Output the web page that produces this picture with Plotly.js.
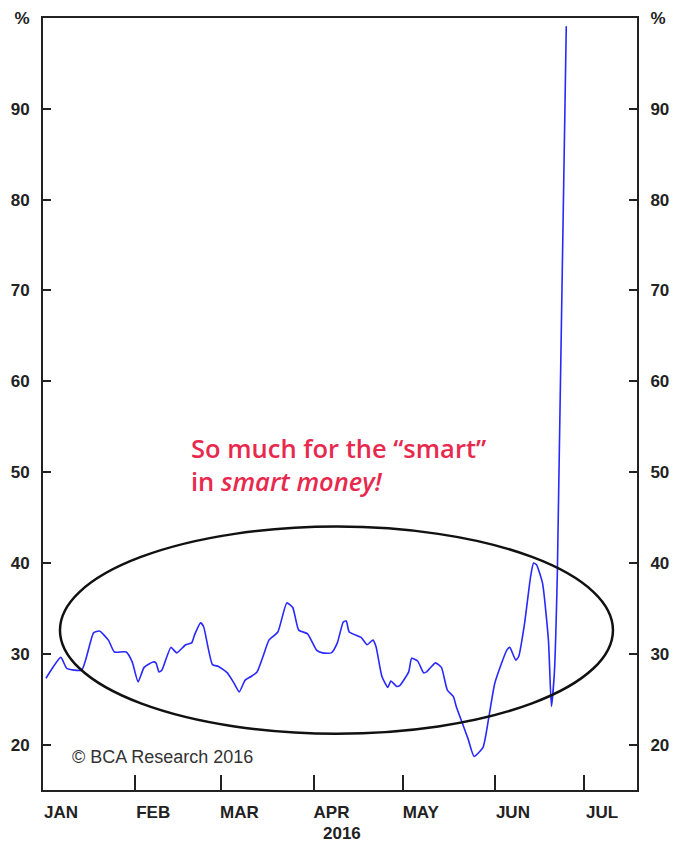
<!DOCTYPE html>
<html>
<head>
<meta charset="utf-8">
<script src="https://cdn.plot.ly/plotly-3.0.1.min.js"></script>
<style>
  html, body { margin: 0; padding: 0; background: #fff; }
  #chart { width: 673px; height: 843px; }
</style>
</head>
<body>
<div id="chart"></div>
<script>
// ---- data ----
const dates = [
  '2016-01-02','2016-01-07','2016-01-09','2016-01-14','2016-01-18','2016-01-20','2016-01-23','2016-01-25','2016-01-29','2016-01-31',
  '2016-02-02','2016-02-04','2016-02-07','2016-02-08','2016-02-09','2016-02-10','2016-02-13','2016-02-15','2016-02-18','2016-02-20',
  '2016-02-21','2016-02-23','2016-02-24','2016-02-27','2016-02-29',
  '2016-03-03','2016-03-05','2016-03-07','2016-03-09','2016-03-11','2016-03-13','2016-03-15','2016-03-17','2016-03-20','2016-03-23',
  '2016-03-25','2016-03-27','2016-03-30',
  '2016-04-02','2016-04-04','2016-04-07','2016-04-09','2016-04-11','2016-04-12','2016-04-13','2016-04-17','2016-04-19','2016-04-21',
  '2016-04-22','2016-04-24','2016-04-26','2016-04-27','2016-04-29','2016-04-30',
  '2016-05-03','2016-05-04','2016-05-06','2016-05-08','2016-05-09','2016-05-12','2016-05-14','2016-05-16','2016-05-18','2016-05-19',
  '2016-05-21','2016-05-23','2016-05-25','2016-05-28','2016-05-30',
  '2016-06-01','2016-06-05','2016-06-06','2016-06-08','2016-06-09','2016-06-11','2016-06-13','2016-06-14','2016-06-15','2016-06-17',
  '2016-06-19','2016-06-20','2016-06-21','2016-06-22','2016-06-25'
];
const values = [
  27.3, 29.6, 28.4, 28.2, 32.3, 32.5, 31.5, 30.2, 30.2, 29.1,
  26.9, 28.5, 29.1, 29.0, 28.0, 28.2, 30.7, 30.1, 31.0, 31.2,
  32.1, 33.4, 33.0, 28.8, 28.6,
  27.9, 26.9, 25.8, 27.1, 27.5, 28.0, 29.7, 31.5, 32.4, 35.6,
  35.1, 32.6, 32.2,
  30.4, 30.1, 30.1, 31.2, 33.5, 33.6, 32.4, 31.8, 31.0, 31.5,
  30.8, 27.5, 26.3, 27.0, 26.4, 26.5,
  28.0, 29.5, 29.2, 27.9, 28.0, 29.0, 28.5, 26.0, 25.3, 24.2,
  22.4, 20.6, 18.7, 19.7, 23.1,
  26.8, 30.4, 30.7, 29.3, 29.7, 33.4, 38.5, 40.0, 39.8, 37.8,
  31.5, 24.2, 27.9, 38.9, 99.1
];
const monthTicks = ['2016-01-01','2016-02-01','2016-03-01','2016-04-01','2016-05-01','2016-06-01','2016-07-01'];
const monthLabels = ['JAN','FEB','MAR','APR','MAY','JUN','JUL'];
const yTicks = [20, 30, 40, 50, 60, 70, 80, 90, 100];
const yLabels = ['20','30','40','50','60','70','80','90','%'];
const yearLabel = '2016';
const noteText = 'So much for the \u201csmart\u201d<br>in <i>smart money!</i>';
const sourceText = '\u00a9 BCA Research 2016';

// ---- chart ----
const tickFont = { family: 'Liberation Sans, Arial, sans-serif', size: 17, color: '#222', weight: 700 };

const traces = [
  {
    x: dates, y: values, type: 'scatter', mode: 'lines',
    line: { color: 'rgb(40,40,255)', width: 1.6, shape: 'spline', smoothing: 0.5 },
    hoverinfo: 'x+y', showlegend: false
  },
  {
    x: dates, y: values, type: 'scatter', mode: 'lines', yaxis: 'y2',
    line: { color: 'rgba(0,0,0,0)', width: 0 },
    hoverinfo: 'skip', showlegend: false
  }
];

const yCommon = {
  range: [15, 100],
  tickmode: 'array', tickvals: yTicks, ticktext: yLabels,
  ticks: 'inside', ticklen: 8, tickwidth: 2, tickcolor: '#222',
  showline: true, linecolor: '#222', linewidth: 2,
  showgrid: false, zeroline: false,
  tickfont: tickFont, ticklabelstandoff: 8,
  fixedrange: true
};

const layout = {
  width: 673, height: 843,
  margin: { l: 43, r: 36, t: 18, b: 53 },
  paper_bgcolor: '#fff', plot_bgcolor: '#fff',
  showlegend: false,
  xaxis: {
    type: 'date',
    range: ['2016-01-01', '2016-07-18 19:00'],
    tickmode: 'array', tickvals: monthTicks, ticktext: monthLabels,
    ticks: 'inside', ticklen: 15, tickwidth: 2, tickcolor: '#222',
    showline: true, linecolor: '#222', linewidth: 2, mirror: true,
    showgrid: false, zeroline: false,
    tickfont: tickFont, ticklabelshift: 18, ticklabelstandoff: 6,
    fixedrange: true
  },
  yaxis: Object.assign({}, yCommon, { side: 'left' }),
  yaxis2: Object.assign({}, yCommon, { side: 'right', overlaying: 'y' }),
  shapes: [
    {
      type: 'circle', xref: 'x', yref: 'y',
      x0: '2016-01-06 17:00', x1: '2016-07-10 17:00',
      y0: 21.2, y1: 44.0,
      line: { color: '#111', width: 2.5 }
    }
  ],
  annotations: [
    {
      text: noteText, xref: 'paper', yref: 'paper',
      x: 0.2455, y: 0.421, xanchor: 'left', yanchor: 'middle', align: 'left',
      showarrow: false,
      font: { family: 'Open Sans, Noto Sans, sans-serif', size: 25.5, color: '#e8294e', weight: 600 }
    },
    {
      text: sourceText, xref: 'paper', yref: 'paper',
      x: 0.045, y: 0.0427, xanchor: 'left', yanchor: 'middle',
      showarrow: false,
      font: { family: 'Liberation Sans, Arial, sans-serif', size: 18, color: '#333' }
    },
    {
      text: yearLabel, xref: 'paper', yref: 'paper',
      x: 0.503, y: -0.0557, xanchor: 'center', yanchor: 'middle',
      showarrow: false,
      font: tickFont
    }
  ]
};

Plotly.newPlot('chart', traces, layout, { displayModeBar: false, staticPlot: true });
</script>
</body>
</html>
